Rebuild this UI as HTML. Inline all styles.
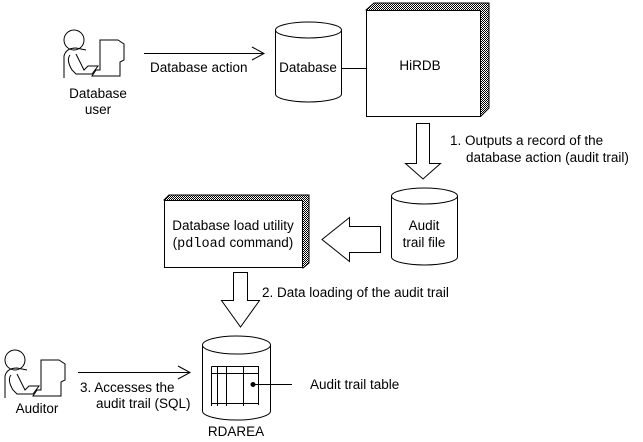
<!DOCTYPE html>
<html><head><meta charset="utf-8"><style>
body{margin:0;background:#fff}
svg{display:block}
text{font-family:"Liberation Sans",sans-serif;font-size:13.5px;fill:#000}
</style></head><body>
<svg width="643" height="442" viewBox="0 0 643 442" xmlns="http://www.w3.org/2000/svg">
<defs>
<pattern id="dots" width="2" height="2" patternUnits="userSpaceOnUse"><rect width="2" height="2" fill="#fff"/><rect width="1" height="1" fill="#000"/><rect x="1" y="1" width="1" height="1" fill="#000"/></pattern>
<g id="person" fill="none" stroke="#000" stroke-width="1">
<circle cx="12" cy="10" r="10"/>
<path d="M2 48 V26 Q4 18 14 18 L24 20 M8 25 Q4 30 10 40 L14 44 H30 L36 36 H26 L22 40 L14 24"/>
<path d="M38 40 V10 H56 L62 14 V30 L58 32 V46 H30 L34 40 Z"/>
</g>
</defs>
<g fill="none" stroke="#000" stroke-width="1">
<use href="#person" x="62" y="30"/>
<path d="M144 53.5 H264 M252 47 L264 53.5 L252 60"/>
<path d="M275.5 30 V94 A33 8 0 0 0 341.5 94 V30"/>
<ellipse cx="308.5" cy="30" rx="33" ry="8"/>
<path d="M341.5 68.5 H366"/>
<path d="M366 10 L374 3 H489 V108 L481 116 Z" fill="url(#dots)"/>
<rect x="366.5" y="10.5" width="114" height="106" fill="#fff"/>
<path d="M416.5 123.5 H429.5 V163.5 H440.5 L423 179 L405.5 163.5 H416.5 Z" fill="#fff"/>
<path d="M391.5 196 V257 A33 8 0 0 0 457.5 257 V196"/>
<ellipse cx="424.5" cy="196" rx="33" ry="8"/>
<path d="M380.5 226.5 V252.5 H349.5 V261.5 L322 239.5 L349.5 217.5 V226.5 Z" fill="#fff"/>
<path d="M164 200 L169 195 H309 V263 L303 268 Z" fill="url(#dots)"/>
<rect x="164.5" y="200.5" width="138" height="67" fill="#fff"/>
<path d="M233.5 272.5 H247.5 V300.5 H259.5 L240.5 327 L221.5 300.5 H233.5 Z" fill="#fff"/>
<path d="M202.5 345 V411 A34 9 0 0 0 270.5 411 V345"/>
<ellipse cx="236.5" cy="345" rx="34" ry="9"/>
<path d="M211.5 366.5 H258.5 V405 M211.5 366.5 V406 M211.5 373.5 H258.5 M211.5 403.5 H258.5 M217.5 366.5 V406 M226.5 366.5 V406 M243.5 366.5 V406"/>
<path d="M253 384.5 H292"/>
<use href="#person" x="3" y="350"/>
<path d="M78 372.5 H190 M178 366 L190 372.5 L178 379"/>
</g>
<circle cx="253" cy="384.5" r="2.5" fill="#000"/>
<text x="150" y="72">Database action</text>
<text x="98" y="98" text-anchor="middle">Database</text>
<text x="98" y="114" text-anchor="middle">user</text>
<text x="308" y="72" text-anchor="middle">Database</text>
<text x="420" y="70" text-anchor="middle">HiRDB</text>
<text x="450" y="145">1. Outputs a record of the</text>
<text x="466" y="162">database action (audit trail)</text>
<text x="424" y="230" text-anchor="middle">Audit</text>
<text x="424" y="247" text-anchor="middle">trail file</text>
<text x="233" y="230" text-anchor="middle">Database load utility</text>
<text x="233" y="247" text-anchor="middle">(<tspan font-family="Liberation Mono,monospace">pdload</tspan> command)</text>
<text x="262" y="297">2. Data loading of the audit trail</text>
<text x="80" y="392">3. Accesses the</text>
<text x="96" y="408">audit trail (SQL)</text>
<text x="37" y="413" text-anchor="middle">Auditor</text>
<text x="236" y="436" text-anchor="middle">RDAREA</text>
<text x="310" y="389">Audit trail table</text>
</svg>
</body></html>
